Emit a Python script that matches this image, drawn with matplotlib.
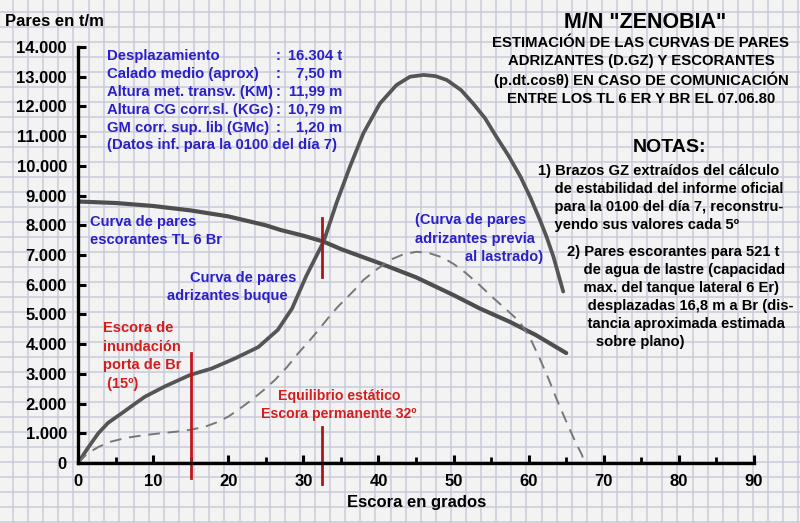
import numpy as np
import matplotlib
matplotlib.use("Agg")
import matplotlib.pyplot as plt
from matplotlib.ticker import MultipleLocator, FuncFormatter

plt.rcParams['font.family'] = ['Liberation Sans', 'DejaVu Sans']
plt.rcParams['font.weight'] = 'bold'

# datos (grados, t/m)
escora_buque = [0, 1.3, 2.7, 4, 5.8, 7.5, 8.9, 11.5, 14.9, 17.8, 20.9, 24, 26.6, 28.5, 30.4,
                32.7, 34.4, 36.2, 38, 40.2, 42.4, 44.2, 46, 47.6, 49.1, 51, 52.6, 54.2, 55.7,
                57.3, 58.9, 60.2, 61.5, 62.4, 63.3, 64.6]
pares_buque = [0, 500, 1000, 1350, 1670, 1980, 2230, 2570, 2960, 3180, 3520, 3900, 4480, 5200,
               6300, 7450, 8740, 9970, 11100, 12100, 12720, 13000, 13060, 13020, 12890, 12550,
               12100, 11600, 10980, 10350, 9640, 8950, 8180, 7600, 6940, 5770]

escora_escor = [0, 5, 10, 15, 20, 25, 27, 30, 32.7, 35, 40.2, 45, 50, 53.5, 57.5, 61, 65]
pares_escor = [8800, 8750, 8650, 8500, 8300, 8000, 7840, 7650, 7450, 7200, 6720, 6250, 5650,
               5200, 4750, 4300, 3700]

escora_previa = [0, 1.3, 2.8, 4.4, 6.5, 8.9, 11, 13.3, 15, 16.9, 18.5, 20, 21.5, 23.1, 24.7,
                 26.2, 27.8, 29.3, 30.7, 32, 33.3, 34.6, 36.8, 38, 39.8, 41.5, 43.3, 45.1, 46.8,
                 48.5, 50, 51.7, 53.5, 55.3, 57.1, 58.8, 60.2, 61.5, 62.7, 63.8, 65, 66.2,
                 67.1, 67.4]
pares_previa = [0, 330, 550, 720, 850, 940, 1000, 1060, 1120, 1220, 1370, 1560, 1820, 2120,
                2450, 2790, 3220, 3690, 4080, 4470, 4880, 5260, 5820, 6160, 6520, 6830, 7020,
                7110, 7060, 6920, 6700, 6380, 5980, 5550, 5150, 4750, 4200, 3500, 2800, 2100,
                1400, 720, 270, 0]

x_ticks = [0, 10, 20, 30, 40, 50, 60, 70, 80, 90]
escora_inundacion = 15
escora_equilibrio = 32.5

W, H = 800, 523
fig = plt.figure(figsize=(W / 100, H / 100), dpi=100)
fig.patch.set_facecolor('#f3f3f4')

# papel cuadriculado
bg = fig.add_axes([0, 0, 1, 1], zorder=0)
bg.set_xlim(0, W)
bg.set_ylim(H, 0)
bg.axis('off')
for gx in np.arange(13, W, 15.1):
    bg.axvline(gx, color='#c9cbd9', lw=1.1)
for gy in np.arange(12, H, 15.0):
    bg.axhline(gy, color='#c9cbd9', lw=1.1)

ax = fig.add_axes([78 / W, 1 - 463 / H, 676 / W, 416 / H], zorder=1)
ax.patch.set_alpha(0)
ax.set_xlim(0, 90)
ax.set_ylim(0, 14000)

ax.plot(escora_escor, pares_escor, color='#4e4e4e', lw=3, solid_capstyle='round',
        solid_joinstyle='round')
ax.plot(escora_buque, pares_buque, color='#555555', lw=2.7, solid_capstyle='round',
        solid_joinstyle='round')
ax.plot(escora_previa, pares_previa, color='#777777', lw=1.4, dashes=(6, 4))

ax.plot([escora_inundacion] * 2, [-500, 3700], color='#c0181c', lw=2, clip_on=False)
ax.plot([escora_equilibrio] * 2, [6250, 8250], color='#b0141a', lw=2, clip_on=False)
ax.plot([escora_equilibrio] * 2, [-700, 1200], color='#b0141a', lw=2, clip_on=False)

for s in ['top', 'right']:
    ax.spines[s].set_visible(False)
for s in ['left', 'bottom']:
    ax.spines[s].set_linewidth(2.4)
ax.set_xticks(x_ticks)
ax.xaxis.set_minor_locator(MultipleLocator(5))
ax.yaxis.set_major_locator(MultipleLocator(1000))
ax.yaxis.set_major_formatter(FuncFormatter(lambda v, p: f"{int(v):,}".replace(',', '.')))
ax.tick_params(axis='both', which='major', direction='in', length=6, width=2.2,
               labelsize=12, pad=8)
ax.tick_params(axis='x', which='minor', direction='in', length=4, width=2)
for lab in ax.get_xticklabels() + ax.get_yticklabels():
    lab.set_fontweight('bold')

def ftext(x, y, s, **kw):
    fig.text(x / W, 1 - y / H, s, fontweight='bold', va='center', **kw)

ftext(5, 21, "Pares en t/m", fontsize=12)
ftext(417, 502, "Escora en grados", fontsize=12, ha='center')

blue = '#2a1fc8'
info = [("Desplazamiento", "16.304 t"),
        ("Calado medio (aprox)", "7,50 m"),
        ("Altura met. transv. (KM)", "11,99 m"),
        ("Altura CG corr.sl. (KGc)", "10,79 m"),
        ("GM corr. sup. lib (GMc)", "1,20 m")]
for i, (lab, val) in enumerate(info):
    y = 56 + i * 18
    ftext(107, y, lab, fontsize=10.7, color=blue)
    ftext(278, y, ":", fontsize=10.7, color=blue, ha='center')
    ftext(342, y, val, fontsize=10.7, color=blue, ha='right')
ftext(107, 145, "(Datos inf. para la 0100 del día 7)", fontsize=10.7, color=blue)

ftext(90, 222, "Curva de pares", fontsize=10.5, color=blue)
ftext(90, 240, "escorantes TL 6 Br", fontsize=10.5, color=blue)
ftext(190, 278, "Curva de pares", fontsize=10.5, color=blue)
ftext(167, 296, "adrizantes buque", fontsize=10.5, color=blue)
ftext(415, 220, "(Curva de pares", fontsize=10.5, color=blue)
ftext(415, 239, "adrizantes previa", fontsize=10.5, color=blue)
ftext(543, 257, "al lastrado)", fontsize=10.5, color=blue, ha='right')

red = '#d41e1e'
ftext(103, 356, "Escora de\ninundación\nporta de Br\n (15º)", fontsize=10.5, color=red,
      linespacing=1.4)
ftext(339, 405, "Equilibrio estático\nEscora permanente 32º", fontsize=10.2, color=red,
      ha='center', multialignment='center', linespacing=1.4)

ftext(645, 22, 'M/N "ZENOBIA"', fontsize=15.5, ha='center')
ftext(641, 71, "ESTIMACIÓN DE LAS CURVAS DE PARES\nADRIZANTES (D.GZ) Y ESCORANTES\n"
      "(p.dt.cosθ) EN CASO DE COMUNICACIÓN\nENTRE LOS TL 6 ER Y BR EL 07.06.80",
      fontsize=10.7, ha='center', multialignment='center', linespacing=1.3)
ftext(669, 148, "NOTAS:", fontsize=14, ha='center')
ftext(538, 198, "1) Brazos GZ extraídos del cálculo\n    de estabilidad del informe oficial\n"
      "    para la 0100 del día 7, reconstru-\n    yendo sus valores cada 5º",
      fontsize=10.6, linespacing=1.35)
ftext(567, 297, "2) Pares escorantes para 521 t\n    de agua de lastre (capacidad\n"
      "    max. del tanque lateral 6 Er)\n     desplazadas 16,8 m a Br (dis-\n"
      "     tancia aproximada estimada\n       sobre plano)",
      fontsize=10.6, linespacing=1.35)

fig.savefig("out.png", dpi=100, facecolor=fig.get_facecolor())
